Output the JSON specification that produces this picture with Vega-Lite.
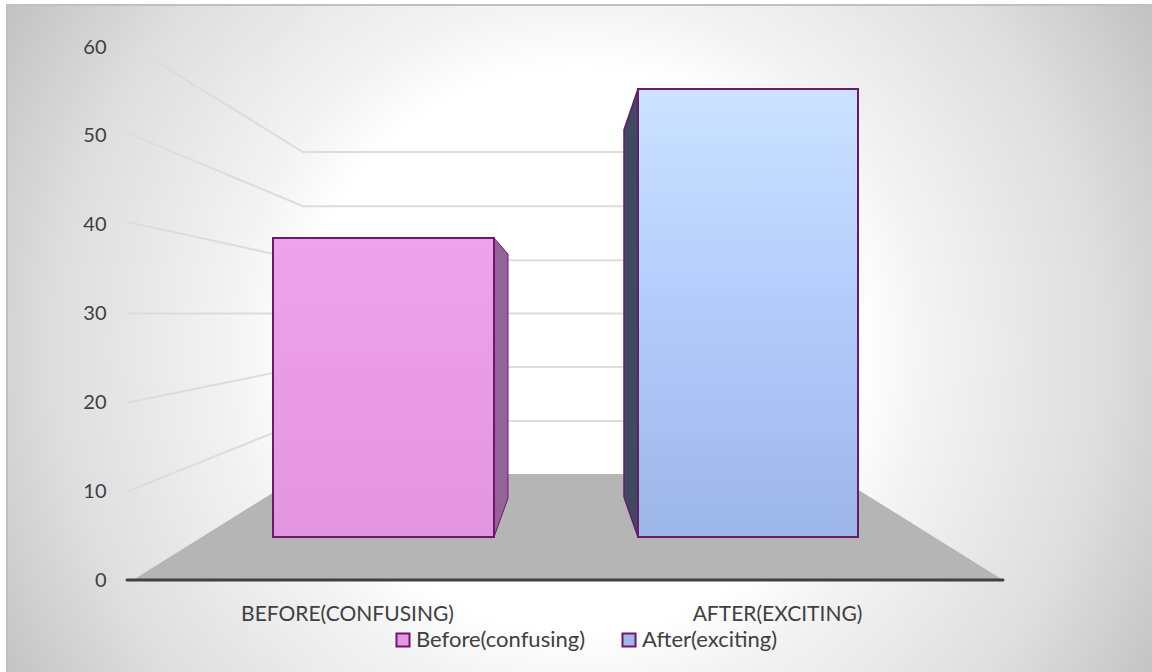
{
"$schema":"https://vega.github.io/schema/vega-lite/v6.json",
"width":1152,"height":672,"padding":0,
"autosize":"none",
"background":"#ffffff",
"config":{"view":{"stroke":null},"font":"Lato"},
"datasets":{
"glow":[{"x":7,"x2":1159,"v":92.3,"v2":-37.4}],
"marginTop":[{"x":0,"x2":1152,"v":70,"v2":64.75}],
"marginLeft":[{"x":0,"x2":7,"v":70,"v2":-12}],
"frame":[{"x":7,"x2":1160,"v":64.75,"v2":-12}],
"floor":[{"x":133,"v":0,"v2":0},{"x":303,"v":11.94,"v2":0},{"x":833,"v":11.94,"v2":0},{"x":1003,"v":0,"v2":0}],
"grid":[
{"tick":60,"x":140,"v":59.5},{"tick":60,"x":303,"v":48.2},{"tick":60,"x":833,"v":48.2},
{"tick":50,"x":128,"v":50.3},{"tick":50,"x":303,"v":42.1},{"tick":50,"x":833,"v":42.1},
{"tick":40,"x":128,"v":40.3},{"tick":40,"x":303,"v":36},{"tick":40,"x":833,"v":36},
{"tick":30,"x":128,"v":30},{"tick":30,"x":303,"v":30},{"tick":30,"x":833,"v":30},
{"tick":20,"x":128,"v":20},{"tick":20,"x":303,"v":24},{"tick":20,"x":833,"v":24},
{"tick":10,"x":128,"v":10},{"tick":10,"x":303,"v":17.9},{"tick":10,"x":833,"v":17.9}],
"bars":[
{"series":"Before(confusing)","x":273,"x2":494,"v":38.5,"v2":4.84},
{"series":"After(exciting)","x":638,"x2":858,"v":55.3,"v2":4.84}],
"sideBefore":[{"x":494,"v":38.5,"v2":4.84},{"x":508,"v":36.7,"v2":9.23}],
"sideAfter":[{"x":624,"v":50.7,"v2":9.35},{"x":638,"v":55.3,"v2":4.84}],
"baseline":[{"x":127,"x2":1003,"v":0}]
},
"encoding":{
"x":{"field":"x","type":"quantitative","title":null,
"scale":{"domain":[0,1152],"nice":false,"zero":false},
"axis":{"orient":"bottom","offset":-69,"values":[347,777],"domain":false,"ticks":false,"grid":false,"zindex":1,"labelFont":"Lato","labelFontSize":21,"labelColor":"#404040","labelPadding":0,"labelLimit":400,"labelOverlap":false,"labelExpr":"datum.value<500?'BEFORE(CONFUSING)':'AFTER(EXCITING)'"}},
"y":{"field":"v","type":"quantitative","title":null,
"scale":{"domain":[-10.36,65.315],"nice":false,"zero":false},
"axis":{"orient":"left","offset":-106,"values":[0,10,20,30,40,50,60],"domain":false,"ticks":false,"grid":false,"zindex":1,"labelFont":"Lato","labelFontSize":20,"labelColor":"#404040","labelPadding":0}}
},
"layer":[
{"data":{"name":"glow"},
"mark":{"type":"rect","fill":{"gradient":"radial","x1":0.497,"y1":0.512,"r1":0,"x2":0.497,"y2":0.512,"r2":0.607,"stops":[{"offset":0,"color":"#ffffff"},{"offset":0.4,"color":"#ffffff"},{"offset":0.5,"color":"#f3f3f3"},{"offset":0.75,"color":"#dedede"},{"offset":1,"color":"#bcbcbc"}]}},
"encoding":{"x2":{"field":"x2"},"y2":{"field":"v2"}}},
{"data":{"name":"marginTop"},"mark":{"type":"rect","fill":"#ffffff"},"encoding":{"x2":{"field":"x2"},"y2":{"field":"v2"}}},
{"data":{"name":"marginLeft"},"mark":{"type":"rect","fill":"#ffffff"},"encoding":{"x2":{"field":"x2"},"y2":{"field":"v2"}}},
{"data":{"name":"frame"},"mark":{"type":"rect","fill":null,"stroke":"#c0c0c0","strokeWidth":2},"encoding":{"x2":{"field":"x2"},"y2":{"field":"v2"}}},
{"data":{"name":"grid"},
"mark":{"type":"line","color":"#dcdcdc","strokeWidth":2,"interpolate":"linear"},
"encoding":{"detail":{"field":"tick"},"order":{"field":"x"}}},
{"data":{"name":"floor"},
"mark":{"type":"area","orient":"vertical","color":"#b5b5b5"},
"encoding":{"y2":{"field":"v2"}}},
{"data":{"name":"baseline"},
"mark":{"type":"rule","color":"#404040","strokeWidth":3,"strokeCap":"round"},
"encoding":{"x2":{"field":"x2"}}},
{"data":{"name":"sideBefore"},
"mark":{"type":"area","orient":"vertical","color":"#96629a","stroke":"#6b1a6b","strokeWidth":1},
"encoding":{"y2":{"field":"v2"}}},
{"data":{"name":"sideAfter"},
"mark":{"type":"area","orient":"vertical","color":"#3d4a60","stroke":"#6b1a6b","strokeWidth":1.5},
"encoding":{"y2":{"field":"v2"}}},
{"data":{"name":"bars"},
"mark":{"type":"rect","stroke":"#6b1a6b","strokeWidth":2},
"encoding":{"x2":{"field":"x2"},"y2":{"field":"v2"},
"color":{"field":"series","type":"nominal",
"scale":{"domain":["Before(confusing)","After(exciting)"],"range":["#e696e2","#a0b8ea"]},
"legend":{"title":null,"orient":"none","legendX":392,"legendY":629,"direction":"horizontal","symbolType":"square","symbolSize":170,"symbolStrokeColor":"#6b1a6b","symbolStrokeWidth":2,"symbolOpacity":1,"labelFont":"Lato","labelFontSize":22,"labelColor":"#404040","labelOffset":2,"labelLimit":300,"columnPadding":32,"symbolOffset":0}}}},
{"data":{"name":"bars"},"transform":[{"filter":"datum.series==='Before(confusing)'"}],
"mark":{"type":"rect","stroke":"#6b1a6b","strokeWidth":2,"fill":{"gradient":"linear","x1":0,"y1":0,"x2":0,"y2":1,"stops":[{"offset":0,"color":"#eea2ec"},{"offset":1,"color":"#e495df"}]}},
"encoding":{"x2":{"field":"x2"},"y2":{"field":"v2"}}},
{"data":{"name":"bars"},"transform":[{"filter":"datum.series==='After(exciting)'"}],
"mark":{"type":"rect","stroke":"#6b1a6b","strokeWidth":2,"fill":{"gradient":"linear","x1":0,"y1":0,"x2":0,"y2":1,"stops":[{"offset":0,"color":"#cbe3ff"},{"offset":0.5,"color":"#b2cbfb"},{"offset":1,"color":"#9db6e8"}]}},
"encoding":{"x2":{"field":"x2"},"y2":{"field":"v2"}}}
]
}
